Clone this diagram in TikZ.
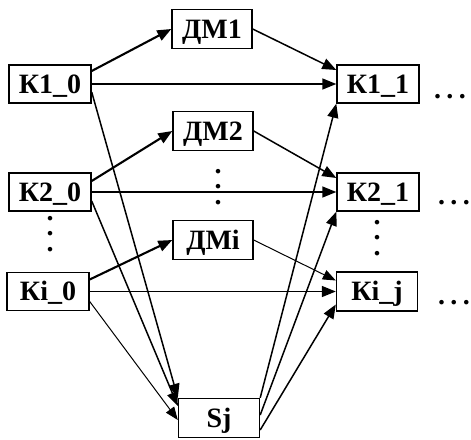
\documentclass[tikz,border=0pt]{standalone}
\usepackage{fontspec}
\setmainfont{Liberation Serif}
\usetikzlibrary{arrows.meta}
\begin{document}
\begin{tikzpicture}[x=1pt,y=-1pt,
  box/.style={draw, line width=1.4pt, minimum width=82pt, minimum height=38pt, inner sep=0pt,
    font=\bfseries\fontsize{28}{32}\selectfont, text height=18.5pt, text depth=0pt},
  con/.style={line width=1.5pt, -{Triangle[length=14pt,width=11pt]}},
  thk/.style={con, line width=2.1pt},
  thn/.style={con, line width=1pt, -{Triangle[length=13pt,width=10pt]}},
  hdots/.style={inner sep=0pt, font=\bfseries\fontsize{28}{30}\selectfont},
  vdots/.style={inner sep=0pt, align=center, font=\bfseries\fontsize{28}{15.5}\selectfont}]
\useasboundingbox (0,0) rectangle (471,439);
\node[box] (k10) at (50,84) {К1\_0};
\node[box] (k20) at (50,192) {К2\_0};
\node[box] (ki0) at (48,291.5) {Кi\_0};
\node[box, minimum width=80pt, minimum height=39pt] (dm1) at (212,29) {ДМ1};
\node[box, minimum width=80pt, minimum height=39pt] (dm2) at (213,131) {ДМ2};
\node[box, minimum width=80pt, minimum height=39pt] (dmi) at (213,240) {ДМi};
\node[box] (k11) at (378,84) {К1\_1};
\node[box] (k21) at (378,192) {К2\_1};
\node[box, minimum width=81pt, minimum height=39pt] (kij) at (377,291.5) {Кi\_j};
\node[box, minimum width=81pt, minimum height=39pt] (sj) at (219,418) {Sj};
\node[hdots] (d1) at (450,97) {.\kern5.5pt.\kern5.5pt.};
\node[hdots] (d2) at (454,203) {.\kern5.5pt.\kern5.5pt.};
\node[hdots] (d3) at (454,303) {.\kern5.5pt.\kern5.5pt.};
\node[vdots] (v1) at (50,234) {.\\.\\.};
\node[vdots] (v2) at (218,187) {.\\.\\.};
\node[vdots] (v3) at (377,238) {.\\.\\.};
\draw[thk] ([yshift=13pt]k10.east) -- (dm1.west);
\draw[con] (dm1.east) -- ([yshift=14pt]k11.west);
\draw[con] (k10.east) -- (k11.west);
\draw[con] ([yshift=-8pt]k10.east) -- (sj.north west);
\draw[thk] ([yshift=11pt]k20.east) -- (dm2.west);
\draw[con] (dm2.east) -- ([yshift=14pt]k21.west);
\draw[con] (k20.east) -- (k21.west);
\draw[con] ([yshift=-9pt]k20.east) -- ([yshift=12pt]sj.west);
\draw[thk] ([yshift=12pt]ki0.east) -- (dmi.west);
\draw[thn] (dmi.east) -- ([yshift=11pt]kij.west);
\draw[con] (ki0.east) -- (kij.west);
\draw[thn] ([yshift=-10pt]ki0.east) -- ([yshift=-2pt]sj.west);
\draw[con] (sj.north east) -- (k11.south west);
\draw[con] ([yshift=3pt]sj.east) -- (k21.south west);
\draw[con] ([yshift=-12pt]sj.east) -- ([yshift=-13pt]kij.west);
\end{tikzpicture}
\end{document}
